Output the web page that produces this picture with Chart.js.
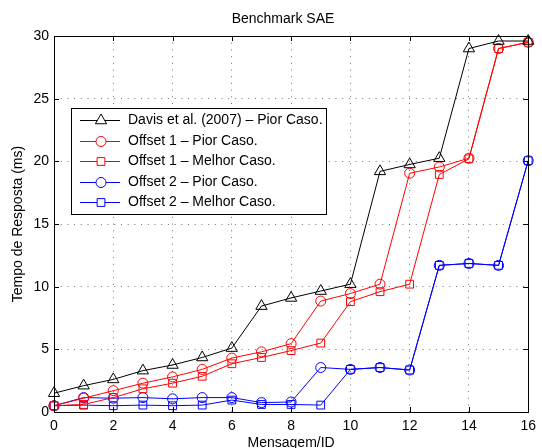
<!DOCTYPE html>
<html>
<head>
<meta charset="utf-8">
<script src="https://cdn.jsdelivr.net/npm/chart.js@4/dist/chart.umd.min.js"></script>
<style>
  html, body { margin: 0; padding: 0; background: #fff; }
</style>
</head>
<body>
<canvas id="chart" width="542" height="448"></canvas>
<script>
// data
const mensagemIds = [0, 1, 2, 3, 4, 5, 6, 7, 8, 9, 10, 11, 12, 13, 14, 15, 16];
const davisPior = [1.5, 2.1, 2.6, 3.3, 3.75, 4.35, 5.1, 8.45, 9.1, 9.65, 10.2, 19.2, 19.75, 20.25, 29.0, 29.6, 29.6];
const offset1Pior = [0.5, 1.1, 1.7, 2.3, 2.8, 3.4, 4.3, 4.8, 5.45, 8.85, 9.45, 10.2, 19.05, 19.55, 20.25, 29.0, 29.5];
const offset1Melhor = [0.5, 0.6, 1.15, 1.85, 2.3, 2.85, 3.85, 4.35, 4.9, 5.5, 8.8, 9.6, 10.2, 18.95, 20.2, 29.0, 29.5];
const offset2Pior = [0.5, 1.15, 1.1, 1.15, 1.05, 1.15, 1.15, 0.75, 0.8, 3.55, 3.4, 3.55, 3.35, 11.7, 11.85, 11.7, 20.05];
const offset2Melhor = [0.5, 0.55, 0.5, 0.55, 0.5, 0.55, 0.95, 0.6, 0.6, 0.55, 3.4, 3.55, 3.35, 11.7, 11.85, 11.7, 20.05];
const xTicks = [0, 2, 4, 6, 8, 10, 12, 14, 16];
const yTicks = [0, 5, 10, 15, 20, 25, 30];

const FONT = '"Liberation Sans", Arial, Helvetica, sans-serif';

function pts(vals) {
  return vals.map((v, i) => ({ x: mensagemIds[i], y: v }));
}

function serie(label, vals, color, style, radius) {
  return {
    label: label,
    data: pts(vals),
    borderColor: color,
    backgroundColor: 'rgba(0,0,0,0)',
    borderWidth: 1,
    pointStyle: style,
    pointRadius: radius,
    pointBorderWidth: 1,
    pointBorderColor: color,
    pointBackgroundColor: 'rgba(0,0,0,0)',
    tension: 0,
    clip: false
  };
}

// frame, inward ticks, title, axis labels and the boxed legend (matlab look)
const matlabDeco = {
  id: 'matlabDeco',
  afterDraw(chart) {
    const ctx = chart.ctx;
    const a = chart.chartArea;
    const xs = chart.scales.x, ys = chart.scales.y;
    ctx.save();
    ctx.strokeStyle = '#000';
    ctx.lineWidth = 1;
    ctx.strokeRect(Math.round(a.left) + 0.5, Math.round(a.top) + 0.5,
                   Math.round(a.right - a.left), Math.round(a.bottom - a.top));
    ctx.beginPath();
    xTicks.forEach(t => {
      const px = Math.round(xs.getPixelForValue(t)) + 0.5;
      ctx.moveTo(px, a.bottom); ctx.lineTo(px, a.bottom - 5);
      ctx.moveTo(px, a.top); ctx.lineTo(px, a.top + 5);
    });
    yTicks.forEach(t => {
      const py = Math.round(ys.getPixelForValue(t)) + 0.5;
      ctx.moveTo(a.left, py); ctx.lineTo(a.left + 5, py);
      ctx.moveTo(a.right, py); ctx.lineTo(a.right - 5, py);
    });
    ctx.stroke();

    ctx.fillStyle = '#000';
    ctx.font = '14px ' + FONT;
    ctx.textAlign = 'center';
    ctx.textBaseline = 'middle';
    ctx.fillText('Benchmark SAE', 283, 19);
    ctx.fillText('Mensagem/ID', (a.left + a.right) / 2, 443);
    ctx.save();
    ctx.translate(18, (a.top + a.bottom) / 2);
    ctx.rotate(-Math.PI / 2);
    ctx.fillText('Tempo de Resposta (ms)', 0, 0);
    ctx.restore();

    // legend
    const lx = 71, ly = 108, lw = 255, lh = 106;
    ctx.fillStyle = '#fff';
    ctx.fillRect(lx, ly, lw, lh);
    ctx.strokeStyle = '#000';
    ctx.strokeRect(lx + 0.5, ly + 0.5, lw, lh);
    chart.data.datasets.forEach((ds, i) => {
      const y = Math.round(120 + i * 20.6) + 0.5;
      ctx.strokeStyle = ds.borderColor;
      ctx.lineWidth = 1;
      ctx.beginPath();
      ctx.moveTo(80, y); ctx.lineTo(120, y);
      ctx.stroke();
      ctx.fillStyle = '#fff';
      Chart.helpers.drawPoint(ctx, {
        pointStyle: ds.pointStyle, radius: ds.pointRadius, borderWidth: 1, rotation: 0
      }, 101, y);
      ctx.fillStyle = '#000';
      ctx.textAlign = 'left';
      ctx.fillText(ds.label, 128, y);
    });
    ctx.restore();
  }
};

new Chart(document.getElementById('chart'), {
  type: 'line',
  data: {
    datasets: [
      serie('Davis et al. (2007) \u2013 Pior Caso.', davisPior, '#000000', 'triangle', 6.5),
      serie('Offset 1 \u2013 Pior Caso.', offset1Pior, '#ff0000', 'circle', 5),
      serie('Offset 1 \u2013 Melhor Caso.', offset1Melhor, '#ff0000', 'rect', 5.5),
      serie('Offset 2 \u2013 Pior Caso.', offset2Pior, '#0000ff', 'circle', 5),
      serie('Offset 2 \u2013 Melhor Caso.', offset2Melhor, '#0000ff', 'rect', 5.5)
    ]
  },
  options: {
    responsive: false,
    animation: false,
    layout: { padding: { left: 0, right: 9, top: 36, bottom: 0 } },
    plugins: {
      legend: { display: false },
      title: { display: false },
      tooltip: { enabled: false }
    },
    scales: {
      x: {
        type: 'linear',
        min: 0, max: 16,
        afterFit: s => { s.height = 36; },
        afterBuildTicks: s => { s.ticks = xTicks.map(v => ({ value: v })); },
        grid: { color: 'rgba(0,0,0,0.55)', drawTicks: false },
        border: { display: false, dash: [1, 5.7] },
        ticks: { color: '#000', padding: 6, font: { family: FONT, size: 14 } }
      },
      y: {
        min: 0, max: 30,
        afterFit: s => { s.width = 54; },
        afterBuildTicks: s => { s.ticks = yTicks.map(v => ({ value: v })); },
        grid: { color: 'rgba(0,0,0,0.55)', drawTicks: false },
        border: { display: false, dash: [1, 5.7] },
        ticks: { color: '#000', padding: 5, font: { family: FONT, size: 14 } }
      }
    }
  },
  plugins: [matlabDeco]
});
</script>
</body>
</html>
